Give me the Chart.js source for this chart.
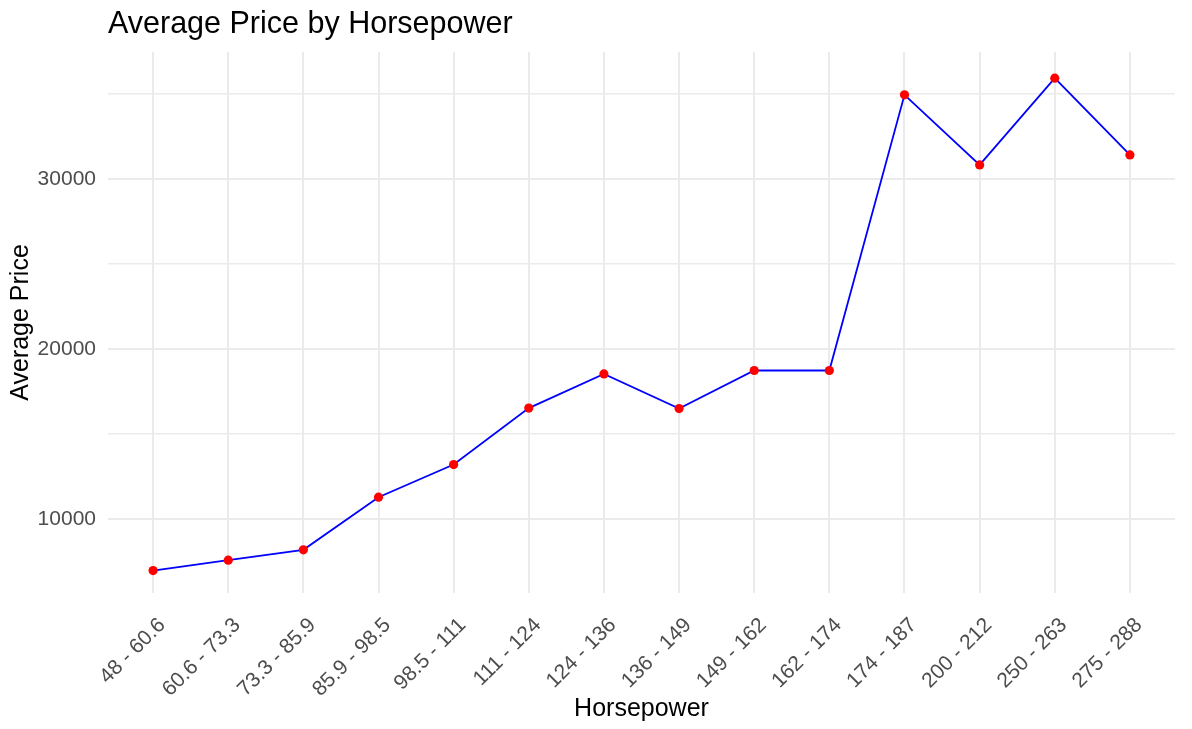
<!DOCTYPE html>
<html>
<head>
<meta charset="utf-8">
<script src="https://cdn.jsdelivr.net/npm/chart.js@4"></script>
<style>
  html, body { margin: 0; padding: 0; background: #ffffff; }
  #wrap { width: 1192px; height: 729px; }
</style>
</head>
<body>
<div id="wrap"><canvas id="c" width="1192" height="729"></canvas></div>
<script>
const chartTitle = "Average Price by Horsepower";
const xAxisTitle = "Horsepower";
const yAxisTitle = "Average Price";
const categories = ["48 - 60.6", "60.6 - 73.3", "73.3 - 85.9", "85.9 - 98.5", "98.5 - 111", "111 - 124", "124 - 136", "136 - 149", "149 - 162", "162 - 174", "174 - 187", "200 - 212", "250 - 263", "275 - 288"];
const avgPrice = [6980, 7590, 8200, 11290, 13210, 16530, 18540, 16500, 18740, 18740, 34940, 30820, 35920, 31410];
const yGridValues = [10000, 15000, 20000, 25000, 30000, 35000];
const yLabelValues = [10000, 20000, 30000];

const FONT = '"Liberation Sans", Arial, sans-serif';

const titlePlugin = {
  id: 'ggTitle',
  afterDraw(chart) {
    const ctx = chart.ctx;
    ctx.save();
    ctx.font = '30.5px ' + FONT;
    ctx.fillStyle = '#000000';
    ctx.textAlign = 'left';
    ctx.textBaseline = 'alphabetic';
    ctx.fillText(chartTitle, chart.chartArea.left, 33);
    ctx.restore();
  }
};

new Chart(document.getElementById('c'), {
  type: 'line',
  data: {
    datasets: [{
      data: avgPrice.map((v, i) => ({ x: i, y: v })),
      borderColor: '#0000FF',
      borderWidth: 1.8,
      pointBackgroundColor: '#FF0000',
      pointBorderWidth: 0,
      pointRadius: 4.6,
      pointHoverRadius: 4.6,
      tension: 0,
      fill: false
    }]
  },
  options: {
    responsive: false,
    animation: false,
    events: [],
    layout: { padding: { top: 52, left: 0, right: 17, bottom: 0 } },
    plugins: {
      legend: { display: false },
      title: { display: false },
      tooltip: { enabled: false }
    },
    scales: {
      x: {
        type: 'linear',
        min: -0.6,
        max: categories.length - 1 + 0.6,
        afterBuildTicks(scale) { scale.ticks = categories.map((_, i) => ({ value: i })); },
        afterFit(scale) { scale.height = 136; },
        border: { display: false },
        grid: { color: '#EBEBEB', lineWidth: 2, drawTicks: false },
        ticks: {
          autoSkip: false,
          maxRotation: 45,
          minRotation: 45,
          padding: 20,
          labelOffset: 9,
          color: '#4D4D4D',
          font: { family: FONT, size: 21 },
          callback: (v) => categories[v]
        },
        title: {
          display: true,
          text: xAxisTitle,
          color: '#000000',
          font: { family: FONT, size: 25 },
          padding: { top: 0, bottom: 5 }
        }
      },
      y: {
        min: 5660,
        max: 37460,
        afterBuildTicks(scale) { scale.ticks = yGridValues.map(v => ({ value: v })); },
        afterFit(scale) { scale.width = 108; },
        border: { display: false },
        grid: {
          color: '#EBEBEB',
          drawTicks: false,
          lineWidth: (c) => (c.tick && yLabelValues.includes(c.tick.value)) ? 2 : 1.4
        },
        ticks: {
          padding: 12,
          color: '#4D4D4D',
          font: { family: FONT, size: 21 },
          callback: (v) => yLabelValues.includes(v) ? String(v) : ''
        },
        title: {
          display: true,
          text: yAxisTitle,
          color: '#000000',
          font: { family: FONT, size: 25 },
          padding: { top: 6, bottom: 0 }
        }
      }
    }
  },
  plugins: [titlePlugin]
});
</script>
</body>
</html>
